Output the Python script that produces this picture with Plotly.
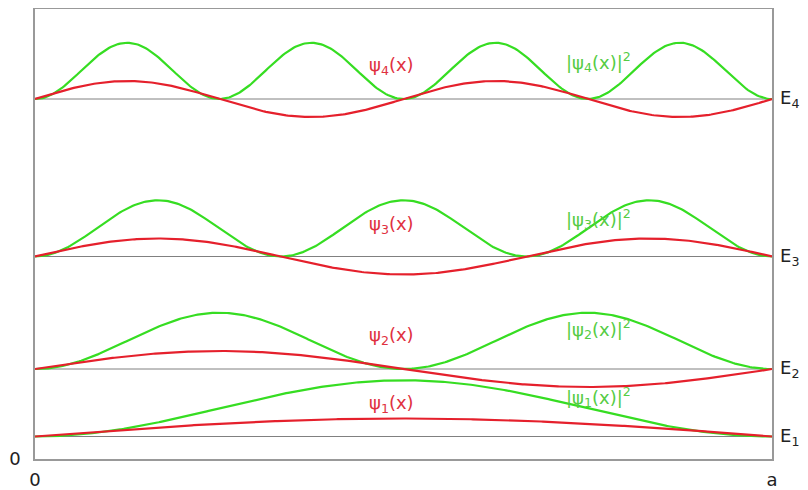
import numpy as np
import plotly.graph_objects as go

# Quantum numbers and energy levels (in units where E_n = n^2)
levels = [1, 2, 3, 4]
energies = [1, 4, 9, 16]
psi_labels = ["ψ<sub>1</sub>(x)", "ψ<sub>2</sub>(x)", "ψ<sub>3</sub>(x)", "ψ<sub>4</sub>(x)"]
prob_labels = ["|ψ<sub>1</sub>(x)|<sup>2</sup>", "|ψ<sub>2</sub>(x)|<sup>2</sup>",
               "|ψ<sub>3</sub>(x)|<sup>2</sup>", "|ψ<sub>4</sub>(x)|<sup>2</sup>"]
energy_labels = ["E<sub>1</sub>", "E<sub>2</sub>", "E<sub>3</sub>", "E<sub>4</sub>"]
psi_label_y = [2.44, 5.47, 10.4, 17.47]
prob_label_y = [2.75, 5.8, 10.65, 17.65]
psi_amplitude = 0.8
prob_amplitude = 2.5
x_ticks = [0, 1]
x_ticktext = ["0", "a"]

RED = "#e5202c"
GREEN = "#36dd22"
RED_TXT = "#e03040"
GREEN_TXT = "#55cc44"

x = np.linspace(0, 1, 400)
fig = go.Figure()

for n, E in zip(levels, energies):
    fig.add_trace(go.Scatter(x=[0, 1], y=[E, E], mode="lines",
                             line=dict(color="#808080", width=1), hoverinfo="skip"))
for n, E in zip(levels, energies):
    psi = np.sin(n * np.pi * x)
    fig.add_trace(go.Scatter(x=x, y=E + prob_amplitude * psi ** 2, mode="lines",
                             line=dict(color=GREEN, width=2.2)))
    fig.add_trace(go.Scatter(x=x, y=E + psi_amplitude * psi, mode="lines",
                             line=dict(color=RED, width=2.2)))

FS = 18
for i, E in enumerate(energies):
    fig.add_annotation(x=0.484, y=psi_label_y[i], text=psi_labels[i], showarrow=False,
                       font=dict(family="DejaVu Sans", size=FS, color=RED_TXT),
                       xanchor="center", yanchor="middle")
    fig.add_annotation(x=0.764, y=prob_label_y[i], text=prob_labels[i], showarrow=False,
                       font=dict(family="DejaVu Sans", size=FS, color=GREEN_TXT),
                       xanchor="center", yanchor="middle")
    fig.add_annotation(x=1, y=E, text=energy_labels[i], showarrow=False,
                       font=dict(family="DejaVu Sans", size=FS, color="#222222"),
                       xanchor="left", yanchor="middle", xshift=6)

# The page body adds an 8px offset, so the figure is sized to fit the window
fig.update_layout(
    width=800, height=482,
    margin=dict(l=27, r=36, t=1, b=31),
    paper_bgcolor="white", plot_bgcolor="white",
    showlegend=False,
    font=dict(family="DejaVu Sans", size=FS, color="#222222"),
)
fig.update_xaxes(range=[0, 1], showgrid=False, zeroline=False, automargin=False,
                 showline=True, mirror=True, linecolor="#999999", linewidth=1.5,
                 tickvals=x_ticks, ticktext=x_ticktext, ticks="", ticklabelstandoff=4,
                 tickfont=dict(family="DejaVu Sans", size=FS, color="#222222"))
fig.update_yaxes(range=[0, 20], showgrid=False, zeroline=False, automargin=False,
                 showline=True, mirror=True, linecolor="#999999", linewidth=1.5,
                 tickvals=[0], ticktext=["0"], ticks="", ticklabelstandoff=9,
                 tickfont=dict(family="DejaVu Sans", size=FS, color="#222222"))

fig.write_html("out.html")
